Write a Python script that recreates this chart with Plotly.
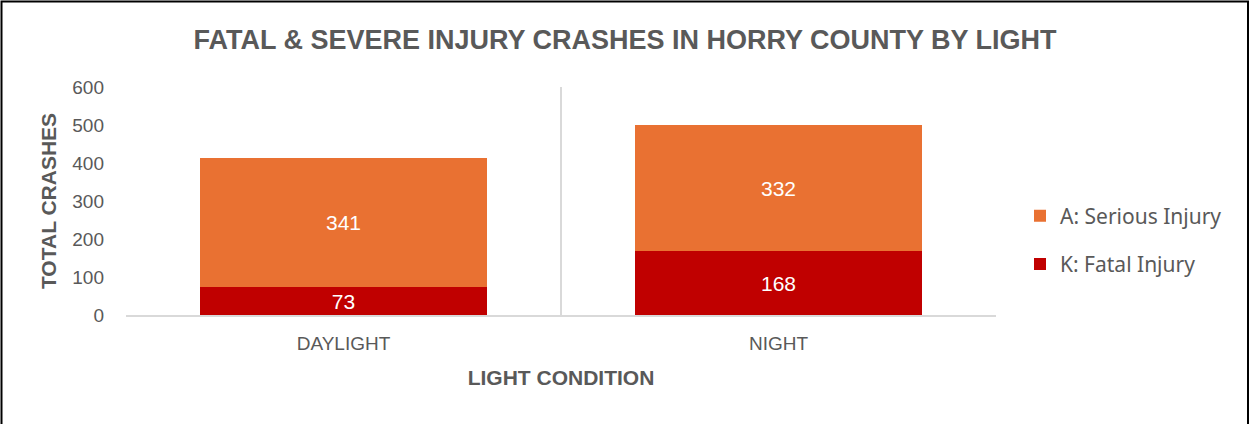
import plotly.graph_objects as go

categories = ["DAYLIGHT", "NIGHT"]
fatal = [73, 168]
serious = [341, 332]
series_names = ["K: Fatal Injury", "A: Serious Injury"]
title_text = "FATAL & SEVERE INJURY CRASHES IN HORRY COUNTY BY LIGHT"
x_title = "LIGHT CONDITION"
y_title = "TOTAL CRASHES"
y_ticks = [0, 100, 200, 300, 400, 500, 600]

GRAY = "#595959"
W, H = 1250, 424
L, R, T, B = 126, 254, 87, 109
pw, ph = W - L - R, H - T - B

fig = go.Figure()
fig.add_trace(go.Bar(
    x=categories, y=fatal, name=series_names[0], marker_color="#C00000",
    marker_line_width=0, text=fatal, textposition="inside",
    insidetextanchor="middle", textfont=dict(color="white", size=21, family="Liberation Sans"),
    legendgroup="k", legendrank=2))
fig.add_trace(go.Bar(
    x=categories, y=serious, name=series_names[1], marker_color="#E97132",
    marker_line_width=0, text=serious, textposition="inside",
    insidetextanchor="middle", textfont=dict(color="white", size=21, family="Liberation Sans"),
    legendgroup="a", legendrank=1))

def px_x(p):
    return (p - L) / pw

def px_y(p):
    return (H - B - p) / ph

fig.update_layout(
    width=W, height=H, barmode="stack", bargap=0.338,
    margin=dict(l=L, r=R, t=T, b=B, pad=0),
    paper_bgcolor="white", plot_bgcolor="white",
    uniformtext=dict(minsize=21, mode="show"),
    title=dict(text="<b>" + title_text + "</b>", x=625 / W, xref="container", xanchor="center",
               y=1 - 40 / H, yanchor="middle",
               font=dict(family="Liberation Sans", size=27, color=GRAY)),
    font=dict(family="Liberation Sans", color=GRAY),
    showlegend=True,
    legend=dict(x=px_x(1020), y=px_y(240), xanchor="left", yanchor="middle",
                traceorder="grouped", tracegroupgap=18,
                font=dict(family="Noto Sans", size=21, color=GRAY),
                bgcolor="rgba(0,0,0,0)"),
    xaxis=dict(
        title=dict(text="<b>" + x_title + "</b>", standoff=18,
                   font=dict(family="Liberation Sans", size=21, color=GRAY)),
        tickfont=dict(family="Liberation Sans", size=19, color=GRAY),
        showline=True, linecolor="#d9d9d9", linewidth=2,
        tickson="boundaries", showgrid=True, gridcolor="#d9d9d9", gridwidth=2,
        ticks="", ticklen=0, ticklabelstandoff=10),
    yaxis=dict(
        title=dict(text="<b>" + y_title + "</b>", standoff=9,
                   font=dict(family="Liberation Sans", size=21, color=GRAY)),
        range=[0, 600], tickvals=y_ticks,
        tickfont=dict(family="Liberation Sans", size=19, color=GRAY),
        showgrid=False, zeroline=False, showline=False, ticks="", ticklabelstandoff=21),
    shapes=[dict(type="rect", xref="paper", yref="paper",
                 x0=px_x(1.5), x1=px_x(1248), y0=px_y(426), y1=px_y(1.5),
                 line=dict(color="black", width=2), fillcolor="rgba(0,0,0,0)", layer="above")],
)

fig.write_html("out.html", config={"displayModeBar": False},
               post_script="document.body.style.margin='0';document.body.style.overflow='hidden';")
